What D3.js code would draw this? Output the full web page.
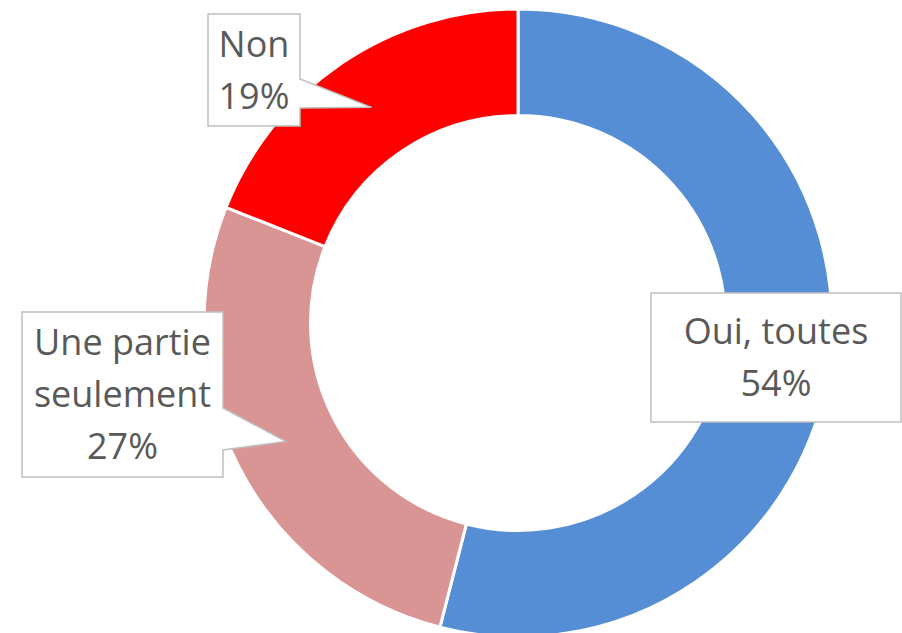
<!DOCTYPE html>
<html>
<head>
<meta charset="utf-8">
<script src="https://cdn.jsdelivr.net/npm/d3@7"></script>
<style>
  html, body { margin: 0; padding: 0; background: #fff; }
  svg { display: block; }
</style>
</head>
<body>
<svg id="chart" width="902" height="633"></svg>
<script>
const categories = ["Oui, toutes", "Une partie seulement", "Non"];
const values = [54, 27, 19];
const labelLines = [["Oui, toutes", "54%"], ["Une partie", "seulement", "27%"], ["Non", "19%"]];
const colors = ["#558ED5", "#D99594", "#FF0000"];

// callout boxes (layout only): box rect + where the pointer leaves the right edge
const callouts = [
  {x: 651, y: 293, w: 250, h: 129, pointer: null},
  {x: 22, y: 312, w: 201, h: 165, pointer: [408, 450]},
  {x: 208, y: 14, w: 92, h: 112, pointer: [79, 108]}
];

const cx = 518, cy = 323, outer = 314, inner = 207.5;
const fontSize = 36, lineGap = 52;

const svg = d3.select("#chart");
const g = svg.append("g").attr("transform", `translate(${cx},${cy})`);

const pie = d3.pie().sort(null).value(d => d);
const arcs = pie(values);
const arc = d3.arc().innerRadius(inner).outerRadius(outer);

g.selectAll("path.slice")
  .data(arcs)
  .join("path")
  .attr("class", "slice")
  .attr("d", arc)
  .attr("fill", (d, i) => colors[i])
  .attr("stroke", "#fff")
  .attr("stroke-width", 3);

function calloutPath(c, tip) {
  const p = d3.path();
  p.moveTo(c.x, c.y);
  p.lineTo(c.x + c.w, c.y);
  if (c.pointer) {
    p.lineTo(c.x + c.w, c.pointer[0]);
    p.lineTo(tip[0], tip[1]);
    p.lineTo(c.x + c.w, c.pointer[1]);
  }
  p.lineTo(c.x + c.w, c.y + c.h);
  p.lineTo(c.x, c.y + c.h);
  p.closePath();
  return p.toString();
}

const labels = svg.selectAll("g.label")
  .data(arcs)
  .join("g")
  .attr("class", "label");

labels.append("path")
  .attr("d", (d, i) => {
    const [tx, ty] = arc.centroid(d);
    return calloutPath(callouts[i], [tx + cx, ty + cy]);
  })
  .attr("fill", "#fff")
  .attr("stroke", "#BFBFBF")
  .attr("stroke-width", 1.5);

labels.each(function (d, i) {
  const c = callouts[i];
  const lines = labelLines[i];
  const midY = c.y + c.h / 2;
  const first = midY - (lines.length - 1) * lineGap / 2 + fontSize * 0.36;
  d3.select(this).append("text")
    .attr("text-anchor", "middle")
    .attr("font-family", "'Open Sans', sans-serif")
    .attr("font-size", fontSize)
    .attr("fill", "#595959")
    .selectAll("tspan")
    .data(lines)
    .join("tspan")
    .attr("x", c.x + c.w / 2)
    .attr("y", (t, k) => first + k * lineGap)
    .text(t => t);
});
</script>
</body>
</html>
